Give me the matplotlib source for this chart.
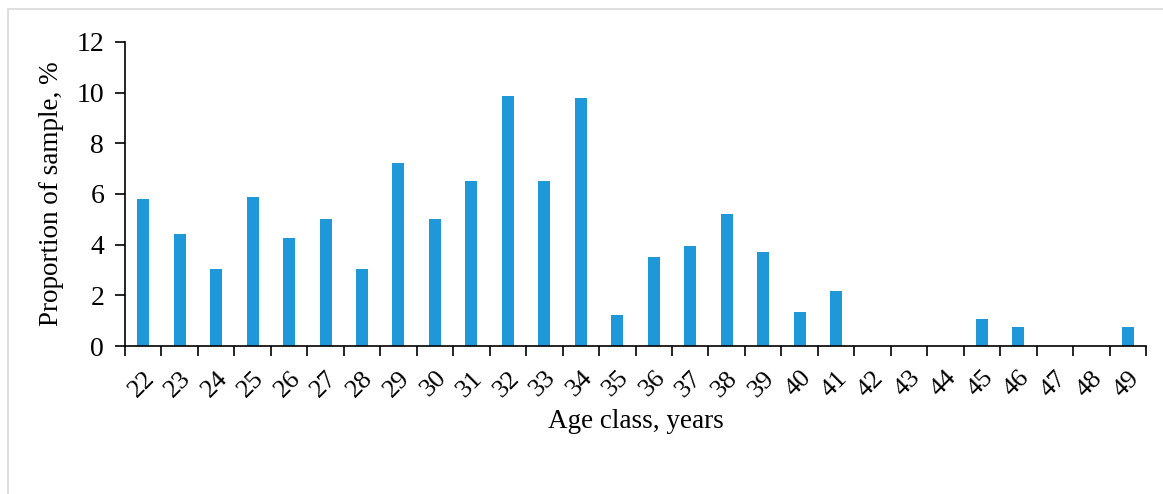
import matplotlib
matplotlib.use("Agg")
import matplotlib.pyplot as plt
from matplotlib.patches import Rectangle
import numpy as np

ages = [str(a) for a in range(22, 50)]
values = [5.80, 4.42, 3.04, 5.88, 4.26, 5.01, 3.04, 7.22, 5.01, 6.51,
          9.87, 6.51, 9.79, 1.22, 3.51, 3.95, 5.21, 3.71, 1.34, 2.17,
          0, 0, 0, 1.07, 0.75, 0, 0, 0.75]
yticks = [0, 2, 4, 6, 8, 10, 12]

plt.rcParams['font.family'] = ['Liberation Serif', 'DejaVu Serif']

fig = plt.figure(figsize=(11.63, 4.94), dpi=100)
fig.patches.append(Rectangle((8/1163, -0.5), 1.2, 1.5 - 9.5/494, transform=fig.transFigure,
                             fill=False, edgecolor='#d9d9d9', linewidth=1.2))
ax = fig.add_axes([125/1163, 1 - 346/494, (1146 - 125)/1163, (346 - 42)/494])

x = np.arange(len(ages))
ax.bar(x, values, width=0.33, color='#1f98da', zorder=2)

ax.set_xlim(-0.5, len(ages) - 0.5)
ax.set_ylim(0, 12)
ax.set_yticks(yticks)
ax.set_yticklabels([str(v) for v in yticks], fontsize=20)

ax.set_xticks(np.arange(len(ages) + 1) - 0.5)
ax.set_xticklabels([])
ax.set_xticks(x, minor=True)
ax.set_xticklabels(ages, minor=True, rotation=45, ha='right', va='top',
                   rotation_mode='anchor', fontsize=19)
ax.tick_params(axis='x', which='major', length=7, width=1.2, direction='out')
ax.tick_params(axis='x', which='minor', length=0, pad=15)
ax.tick_params(axis='y', length=7, width=1.2, direction='out', pad=8)

for s in ['top', 'right']:
    ax.spines[s].set_visible(False)
for s in ['left', 'bottom']:
    ax.spines[s].set_linewidth(1.2)
    ax.spines[s].set_color('black')

ax.set_ylabel('Proportion of sample, %', fontsize=19.5, labelpad=9)
ax.set_xlabel('Age class, years', fontsize=19.5, labelpad=6)

fig.savefig('out.png', dpi=100)
